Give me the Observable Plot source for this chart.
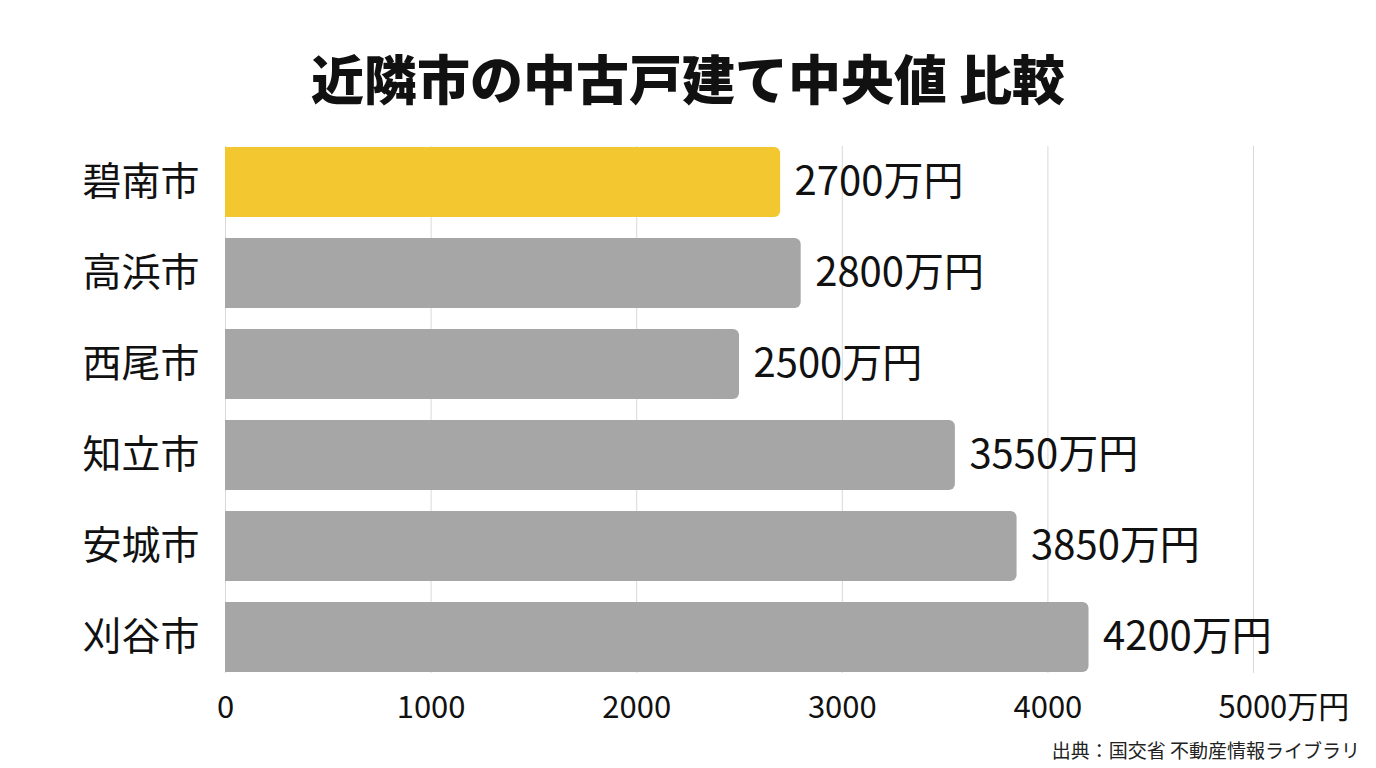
<!DOCTYPE html>
<html><head><meta charset="utf-8">
<script src="https://cdn.jsdelivr.net/npm/d3@7"></script>
<script src="https://cdn.jsdelivr.net/npm/@observablehq/plot@0.6"></script>
<style>
html,body{margin:0;padding:0;background:#fff;}
body{width:1376px;height:768px;overflow:hidden;font-family:"Noto Sans CJK JP","Noto Sans",sans-serif;}
#title{height:130px;box-sizing:border-box;padding-top:47px;text-align:center;font-size:53px;line-height:60px;font-weight:900;color:#111;}
#source{text-align:right;padding-right:16px;font-size:19px;line-height:20px;color:#222;}
svg{display:block;}
</style></head><body>
<div id="title">近隣市の中古戸建て中央値 比較</div>
<div id="chart"></div>
<div id="source">出典：国交省 不動産情報ライブラリ</div>
<script>
const cities = ["碧南市","高浜市","西尾市","知立市","安城市","刈谷市"];
const values = [2700, 2800, 2500, 3550, 3850, 4200];
const highlight = "碧南市";
const ticks = [0, 1000, 2000, 3000, 4000];
const lastTick = [5000];
const unit = "万円";

const data = cities.map((c, i) => ({city: c, value: values[i]}));
const colorOf = d => d.city === highlight ? "#F2C730" : "#A6A6A6";
const font = '"Noto Sans CJK JP","Noto Sans",sans-serif';

const chart = Plot.plot({
  width: 1376,
  height: 610,
  marginLeft: 225,
  marginRight: 123,
  marginTop: 16,
  marginBottom: 67,
  style: {fontFamily: font, color: "#111", background: "#fff"},
  x: {domain: [0, 5000]},
  y: {domain: cities, paddingInner: 0.229, paddingOuter: 0},
  marks: [
    Plot.gridX([...ticks, ...lastTick], {stroke: "#d9d9d9", strokeOpacity: 1, strokeWidth: 1}),
    Plot.barX(data, {y: "city", x: "value", fill: colorOf, rx: 6}),
    Plot.barX(data, {y: "city", x1: 0, x2: d => d.value - 100, fill: colorOf}),
    Plot.text(data, {y: "city", x: "value", text: d => d.value + unit, textAnchor: "start", dx: 14, fontSize: 40, fill: "#111"}),
    Plot.axisY({tickSize: 0, tickPadding: 26, fontSize: 39, fill: "#111", label: null}),
    Plot.axisX(ticks, {tickSize: 0, tickPadding: 22, fontSize: 31, fill: "#111", label: null, tickFormat: d => String(d)}),
    Plot.axisX(lastTick, {tickSize: 0, tickPadding: 22, fontSize: 31, fill: "#111", label: null, textAnchor: "start", dx: -35, tickFormat: d => d + unit})
  ]
});
document.getElementById("chart").appendChild(chart);
</script>
</body></html>
